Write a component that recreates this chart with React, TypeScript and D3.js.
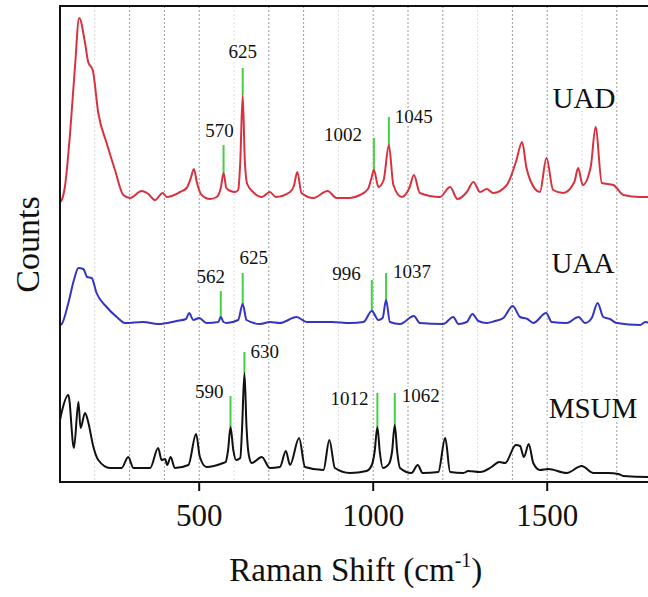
import React from 'react';
import * as d3 from 'd3';

// ---------- data ----------
const xDomain: [number, number] = [100, 1800];
const yDomain: [number, number] = [0, 476];
const xTicks = [500, 1000, 1500];
const gridStrong = [300, 400, 500, 700, 800, 1000, 1100, 1200, 1400, 1500, 1700];
const gridFaint = [200, 600, 900, 1300, 1600];

// [Raman shift, counts (stacked, arbitrary units)]
const uad: [number, number][] = [
  [100, 280], [105, 282], [114, 295], [129, 349], [143, 415], [155, 464], [172, 439], [181, 420],
  [194, 412], [210, 369], [234, 339], [258, 312], [282, 287], [301, 284], [335, 291], [354, 288],
  [373, 282], [395, 289], [407, 285], [445, 290], [464, 294], [475, 303], [485, 313], [493, 300],
  [507, 287], [531, 283], [550, 285], [562, 294], [570, 309], [578, 294], [590, 291], [603, 290],
  [612, 292], [618, 320], [625, 387], [631, 322], [638, 298], [655, 290], [680, 285], [703, 290],
  [720, 285], [761, 290], [772, 296], [782, 310], [794, 289], [828, 284], [869, 291], [895, 284],
  [933, 284], [962, 287], [985, 293], [995, 304], [1002, 312], [1015, 295], [1030, 302],
  [1045, 337], [1058, 297], [1082, 285], [1105, 295], [1117, 307], [1134, 289], [1192, 285],
  [1221, 295], [1242, 283], [1269, 290], [1288, 300], [1307, 290], [1326, 293], [1345, 289],
  [1384, 297], [1410, 320], [1428, 340], [1440, 315], [1451, 302], [1479, 290], [1498, 324],
  [1517, 292], [1546, 289], [1578, 300], [1589, 314], [1602, 297], [1625, 315], [1639, 355],
  [1657, 299], [1690, 297], [1719, 287], [1767, 285], [1800, 285]
];

const uaa: [number, number][] = [
  [100, 157], [105, 158], [124, 179], [140, 202], [153, 214], [167, 213], [178, 205], [191, 204],
  [205, 189], [234, 175], [263, 165], [287, 159], [339, 160], [382, 158], [435, 161], [462, 163],
  [471, 169], [483, 162], [500, 164], [521, 159], [555, 160], [562, 165], [570, 160], [579, 159],
  [612, 162], [625, 178], [636, 162], [675, 158], [703, 160], [732, 159], [780, 165], [809, 160],
  [881, 160], [933, 159], [972, 160], [996, 171], [1015, 162], [1027, 164], [1037, 182], [1048, 160],
  [1077, 158], [1117, 166], [1134, 159], [1201, 158], [1230, 165], [1245, 158], [1269, 160],
  [1285, 168], [1302, 161], [1326, 159], [1350, 161], [1374, 164], [1401, 176], [1422, 165],
  [1443, 163], [1460, 159], [1497, 169], [1513, 160], [1556, 159], [1590, 165], [1609, 159],
  [1628, 164], [1645, 179], [1661, 165], [1680, 163], [1700, 159], [1767, 157], [1782, 160],
  [1800, 158]
];

const msum: [number, number][] = [
  [100, 62], [105, 70], [124, 87], [140, 34], [153, 80], [159, 54], [172, 69], [181, 60], [196, 35],
  [210, 22], [244, 14], [277, 14], [296, 25], [311, 14], [359, 14], [382, 34], [392, 22], [402, 23],
  [408, 17], [418, 25], [430, 14], [469, 17], [491, 48], [502, 25], [521, 15], [569, 19], [576, 20],
  [583, 32], [590, 55], [598, 32], [606, 22], [618, 24], [623, 52], [630, 109], [636, 55], [642, 28],
  [651, 19], [680, 25], [703, 14], [732, 15], [749, 31], [761, 17], [787, 44], [804, 15], [857, 12],
  [874, 42], [890, 14], [933, 9], [981, 11], [996, 17], [1004, 30], [1012, 55], [1019, 30],
  [1028, 14], [1045, 18], [1054, 30], [1062, 57], [1069, 30], [1077, 14], [1110, 9], [1128, 17],
  [1142, 9], [1187, 10], [1207, 44], [1221, 10], [1259, 9], [1273, 11], [1307, 10], [1340, 15],
  [1362, 20], [1379, 19], [1410, 37], [1422, 36], [1433, 25], [1447, 38], [1460, 19], [1479, 12],
  [1503, 13], [1556, 9], [1599, 16], [1633, 9], [1676, 9], [1704, 8], [1719, 6], [1790, 5], [1800, 5]
];

const uadPeaks = [570, 625, 1002, 1045];
const uadPeakCounts = [309, 387, 312, 337];
const uadMarkerTops = [337, 414, 344, 365];

const uaaPeaks = [562, 625, 996, 1037];
const uaaPeakCounts = [165, 178, 171, 182];
const uaaMarkerTops = [191, 209, 202, 209];

const msumPeaks = [590, 630, 1012, 1062];
const msumPeakCounts = [55, 109, 55, 57];
const msumMarkerTops = [86, 130, 89, 89];

const seriesNames = ['UAD', 'UAA', 'MSUM'];

// ---------- layout / style ----------
const W = 648, H = 597;
const plot = { left: 60, right: 651.6, top: 6, bottom: 482 };
const colors = { UAD: '#d8323f', UAA: '#3434c4', MSUM: '#111111', marker: '#44d044' };
const FONT = '"Liberation Serif", "Times New Roman", serif';

type Place = { anchor: 'start' | 'middle' | 'end'; dx: number; dy: number };
const uadPlace: Place[] = [
  { anchor: 'middle', dx: -4, dy: -8 }, { anchor: 'middle', dx: 0, dy: -10 },
  { anchor: 'end', dx: -12, dy: 3 }, { anchor: 'start', dx: 6, dy: 6 }
];
const uaaPlace: Place[] = [
  { anchor: 'middle', dx: -10, dy: -8 }, { anchor: 'middle', dx: 11, dy: -9 },
  { anchor: 'end', dx: -11, dy: 0 }, { anchor: 'start', dx: 7, dy: 5 }
];
const msumPlace: Place[] = [
  { anchor: 'end', dx: -7, dy: 2 }, { anchor: 'start', dx: 6, dy: 6 },
  { anchor: 'end', dx: -9, dy: 12 }, { anchor: 'start', dx: 7, dy: 9 }
];
// series name label anchor (px)
const nameLabelPos = [
  { x: 584, y: 108 }, { x: 583, y: 272.5 }, { x: 593, y: 418 }
];

export default function App() {
  const x = d3.scaleLinear().domain(xDomain).range([plot.left, plot.right]);
  const y = d3.scaleLinear().domain(yDomain).range([plot.bottom, plot.top]);
  const line = d3.line<[number, number]>().x(d => x(d[0])).y(d => y(d[1])).curve(d3.curveMonotoneX);

  const series = [
    { name: 'UAD', data: uad, color: colors.UAD, peaks: uadPeaks, pc: uadPeakCounts, tops: uadMarkerTops, place: uadPlace },
    { name: 'UAA', data: uaa, color: colors.UAA, peaks: uaaPeaks, pc: uaaPeakCounts, tops: uaaMarkerTops, place: uaaPlace },
    { name: 'MSUM', data: msum, color: colors.MSUM, peaks: msumPeaks, pc: msumPeakCounts, tops: msumMarkerTops, place: msumPlace },
  ];

  return (
    <svg width={W} height={H} viewBox={`0 0 ${W} ${H}`}
      style={{ position: 'absolute', left: 0, top: 0, background: '#fff' }}
      fontFamily={FONT}>
      <defs>
        <clipPath id="plotclip">
          <rect x={plot.left} y={plot.top} width={plot.right - plot.left} height={plot.bottom - plot.top} />
        </clipPath>
      </defs>
      <rect x={0} y={0} width={W} height={H} fill="#fff" />
      {/* gridlines */}
      {gridFaint.map(v => (
        <line key={'gf' + v} x1={x(v)} x2={x(v)} y1={plot.top} y2={plot.bottom}
          stroke="#dcdcdc" strokeWidth={1} strokeDasharray="2,2" />
      ))}
      {gridStrong.map(v => (
        <line key={'gs' + v} x1={x(v)} x2={x(v)} y1={plot.top} y2={plot.bottom}
          stroke="#9a9a9a" strokeWidth={1} strokeDasharray="2,2" />
      ))}
      <g clipPath="url(#plotclip)">
        {/* markers */}
        {series.map(s => s.peaks.map((p, i) => (
          <line key={s.name + 'm' + p} x1={x(p)} x2={x(p)} y1={y(s.pc[i])} y2={y(s.tops[i])}
            stroke={colors.marker} strokeWidth={2} />
        )))}
        {/* spectra */}
        {series.map(s => (
          <path key={s.name} d={line(s.data) || ''} fill="none" stroke={s.color} strokeWidth={2}
            strokeLinejoin="round" />
        ))}
      </g>
      {/* peak labels */}
      {series.map(s => s.peaks.map((p, i) => (
        <text key={s.name + 'l' + p} x={x(p) + s.place[i].dx} y={y(s.tops[i]) + s.place[i].dy}
          textAnchor={s.place[i].anchor} fontSize={19} fill="#111"
          stroke="#fff" strokeWidth={4} style={{ paintOrder: 'stroke' }}>{String(p)}</text>
      )))}
      {/* series names */}
      {seriesNames.map((n, i) => (
        <text key={n} x={nameLabelPos[i].x} y={nameLabelPos[i].y} textAnchor="middle" fontSize={29}
          fill="#111" stroke="#fff" strokeWidth={5} style={{ paintOrder: 'stroke' }}>{n}</text>
      ))}
      {/* axes */}
      <line x1={plot.left} x2={W} y1={plot.top} y2={plot.top} stroke="#111" strokeWidth={2} />
      <line x1={plot.left} x2={plot.left} y1={plot.top - 1} y2={plot.bottom + 1} stroke="#111" strokeWidth={2} />
      <line x1={plot.left - 1} x2={W} y1={plot.bottom} y2={plot.bottom} stroke="#111" strokeWidth={2} />
      {xTicks.map(t => (
        <g key={'t' + t}>
          <line x1={x(t)} x2={x(t)} y1={plot.bottom} y2={plot.bottom + 9} stroke="#111" strokeWidth={2} />
          <text x={x(t)} y={526} textAnchor="middle" fontSize={31} fill="#111">{t}</text>
        </g>
      ))}
      <text x={(plot.left + plot.right) / 2} y={581} textAnchor="middle" fontSize={33} fill="#111">
        Raman Shift (cm<tspan fontSize={20} dy={-14}>-1</tspan><tspan dy={14}>)</tspan>
      </text>
      <text transform="translate(39,244.5) rotate(-90)" textAnchor="middle" fontSize={34} fill="#111">Counts</text>
    </svg>
  );
}
